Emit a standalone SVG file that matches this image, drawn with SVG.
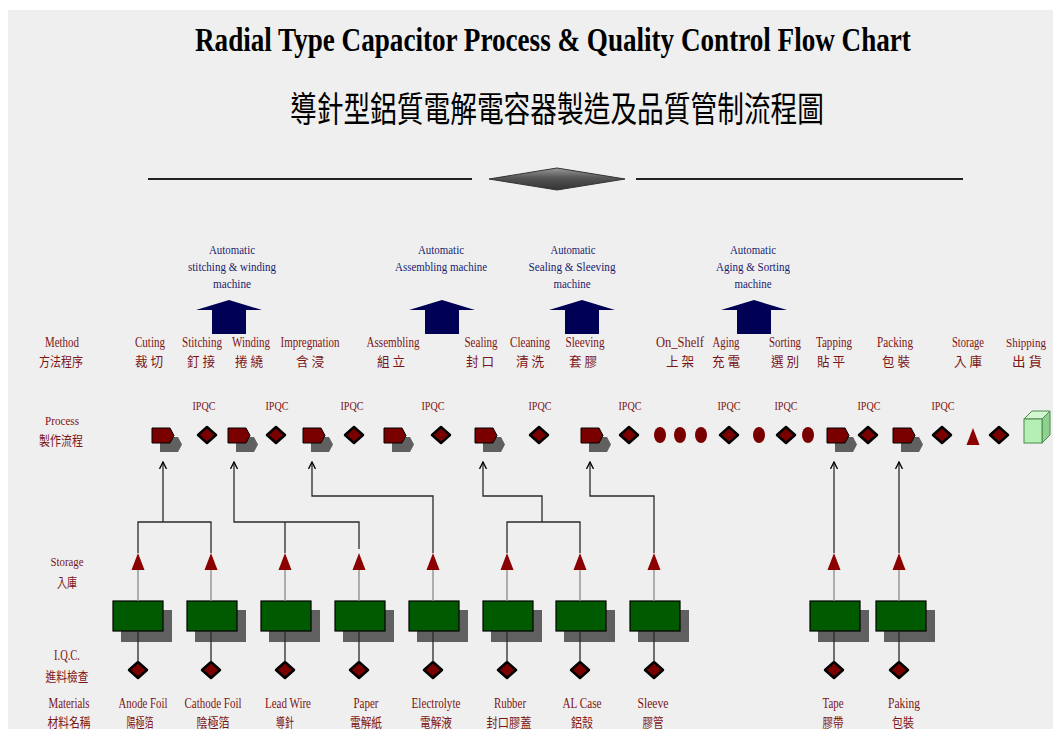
<svg xmlns="http://www.w3.org/2000/svg" width="1053" height="729" viewBox="0 0 1053 729">
<defs>
<style>
.lbl{font-family:"Liberation Serif","Noto Sans CJK TC",serif;font-size:14px;fill:#7b1414;text-anchor:middle}
.cjk{font-family:"Noto Sans CJK TC","Liberation Serif",sans-serif;font-size:13px;fill:#7b1414;text-anchor:middle}
.mach{font-family:"Liberation Serif",serif;font-size:13px;fill:#1c1c6e;text-anchor:middle}
.ipqc{font-family:"Liberation Serif",serif;font-size:13px;fill:#7b1414;text-anchor:middle}
.shadow{fill:#606060}
.pm{fill:#7a0000;stroke:#000;stroke-width:1}
.dia{fill:#7a0000;stroke:#000;stroke-width:2.5;stroke-linejoin:round}
.gb{fill:#005a00;stroke:#000;stroke-width:1.2}
.tri{fill:#8b0000}
.ell{fill:#7a0000}
.big{fill:#000055}
.conn{fill:none;stroke:#2a2a2a;stroke-width:1.3}
.conn2{fill:none;stroke:#8a8a8a;stroke-width:1.3}
</style>
<linearGradient id="dg" x1="0" y1="0" x2="0" y2="1">
<stop offset="0" stop-color="#9a9a9a"/>
<stop offset="0.45" stop-color="#555555"/>
<stop offset="1" stop-color="#333333"/>
</linearGradient>
<marker id="ah" viewBox="0 -4 8 8" refX="7" refY="0" markerWidth="8" markerHeight="8" orient="auto" markerUnits="userSpaceOnUse">
<path d="M0,-3.5 L7,0 L0,3.5" fill="none" stroke="#000" stroke-width="1.3"/>
</marker>
<g id="proc">
<polygon class="shadow" points="8,9 26,9 30,16.5 26,24 8,24"/>
<polygon class="pm" points="0,0 18,0 22,7.5 18,15 0,15"/>
</g>
<polygon id="dia" class="dia" points="0,-8 9,0 0,8 -9,0"/>
<g id="box">
<rect class="shadow" x="8" y="9" width="51" height="32"/>
<rect class="gb" x="0" y="0" width="50" height="30"/>
</g>
<polygon id="stri" class="tri" points="0,0 6.5,17 -6.5,17"/>
<polygon id="bigarrow" class="big" points="-17,34 -17,10 -33,10 0,0 33,10 17,10 17,34"/>
</defs>

<rect x="0" y="0" width="1053" height="729" fill="#ffffff"/>
<rect x="8" y="10" width="1045" height="719" fill="#efefef"/>

<g id="title">
<text transform="translate(195,51) scale(0.822,1)" x="0" y="0" font-family="Liberation Serif, serif" font-weight="bold" font-size="33" fill="#000">Radial Type Capacitor Process &amp; Quality Control Flow Chart</text>
<text x="290" y="122" font-family="Noto Sans CJK TC, sans-serif" font-size="35" fill="#000" textLength="534" lengthAdjust="spacingAndGlyphs">導針型鋁質電解電容器製造及品質管制流程圖</text>
</g>

<g id="divider">
<line x1="148" y1="179" x2="472" y2="179" stroke="#222" stroke-width="2"/>
<polygon points="489,179 557,168 625,179 557,190" fill="url(#dg)" stroke="#333" stroke-width="1"/>
<line x1="636" y1="179" x2="963" y2="179" stroke="#222" stroke-width="2"/>
</g>

<!-- row labels -->
<g id="row-method">
<text class="lbl" x="62" y="347" textLength="34" lengthAdjust="spacingAndGlyphs">Method</text>
<text class="cjk" x="61" y="366" textLength="44" lengthAdjust="spacingAndGlyphs">方法程序</text>
</g>
<g id="row-process">
<text class="lbl" x="62" y="425" style="font-size:12px" textLength="34" lengthAdjust="spacingAndGlyphs">Process</text>
<text class="cjk" x="61" y="445" textLength="44" lengthAdjust="spacingAndGlyphs">製作流程</text>
</g>
<g id="row-storage">
<text class="lbl" x="67" y="566" style="font-size:13px" textLength="33" lengthAdjust="spacingAndGlyphs">Storage</text>
<text class="cjk" x="67" y="587" textLength="20" lengthAdjust="spacingAndGlyphs">入庫</text>
</g>
<g id="row-iqc">
<text class="lbl" x="67" y="660" textLength="26" lengthAdjust="spacingAndGlyphs">I.Q.C.</text>
<text class="cjk" x="67" y="681" textLength="43" lengthAdjust="spacingAndGlyphs">進料檢查</text>
</g>
<g id="row-materials">
<text class="lbl" x="69" y="708" textLength="41" lengthAdjust="spacingAndGlyphs">Materials</text>
<text class="cjk" x="69" y="727" textLength="43" lengthAdjust="spacingAndGlyphs">材料名稱</text>
</g>

<!-- method labels -->
<g id="m-cutting"><text class="lbl" x="150" y="347" textLength="30" lengthAdjust="spacingAndGlyphs">Cuting</text><text class="cjk" x="149" y="366" textLength="28" lengthAdjust="spacingAndGlyphs">裁 切</text></g>
<g id="m-stitching"><text class="lbl" x="202" y="347" textLength="40" lengthAdjust="spacingAndGlyphs">Stitching</text><text class="cjk" x="201" y="366" textLength="28" lengthAdjust="spacingAndGlyphs">釘 接</text></g>
<g id="m-winding"><text class="lbl" x="251" y="347" textLength="38" lengthAdjust="spacingAndGlyphs">Winding</text><text class="cjk" x="249" y="366" textLength="28" lengthAdjust="spacingAndGlyphs">捲 繞</text></g>
<g id="m-impregnation"><text class="lbl" x="310" y="347" textLength="59" lengthAdjust="spacingAndGlyphs">Impregnation</text><text class="cjk" x="310" y="366" textLength="28" lengthAdjust="spacingAndGlyphs">含 浸</text></g>
<g id="m-assembling"><text class="lbl" x="393" y="347" textLength="53" lengthAdjust="spacingAndGlyphs">Assembling</text><text class="cjk" x="391" y="366" textLength="28" lengthAdjust="spacingAndGlyphs">組 立</text></g>
<g id="m-sealing"><text class="lbl" x="481" y="347" textLength="33" lengthAdjust="spacingAndGlyphs">Sealing</text><text class="cjk" x="480" y="366" textLength="28" lengthAdjust="spacingAndGlyphs">封 口</text></g>
<g id="m-cleaning"><text class="lbl" x="530" y="347" textLength="40" lengthAdjust="spacingAndGlyphs">Cleaning</text><text class="cjk" x="530" y="366" textLength="28" lengthAdjust="spacingAndGlyphs">清 洗</text></g>
<g id="m-sleeving"><text class="lbl" x="585" y="347" textLength="39" lengthAdjust="spacingAndGlyphs">Sleeving</text><text class="cjk" x="583" y="366" textLength="28" lengthAdjust="spacingAndGlyphs">套 膠</text></g>
<g id="m-onshelf"><text class="lbl" x="680" y="347" textLength="48" lengthAdjust="spacingAndGlyphs">On_Shelf</text><text class="cjk" x="680" y="366" textLength="28" lengthAdjust="spacingAndGlyphs">上 架</text></g>
<g id="m-aging"><text class="lbl" x="726" y="347" textLength="27" lengthAdjust="spacingAndGlyphs">Aging</text><text class="cjk" x="726" y="366" textLength="28" lengthAdjust="spacingAndGlyphs">充 電</text></g>
<g id="m-sorting"><text class="lbl" x="785" y="347" textLength="32" lengthAdjust="spacingAndGlyphs">Sorting</text><text class="cjk" x="785" y="366" textLength="28" lengthAdjust="spacingAndGlyphs">選 別</text></g>
<g id="m-tapping"><text class="lbl" x="834" y="347" textLength="36" lengthAdjust="spacingAndGlyphs">Tapping</text><text class="cjk" x="831" y="366" textLength="28" lengthAdjust="spacingAndGlyphs">貼 平</text></g>
<g id="m-packing"><text class="lbl" x="895" y="347" textLength="36" lengthAdjust="spacingAndGlyphs">Packing</text><text class="cjk" x="896" y="366" textLength="28" lengthAdjust="spacingAndGlyphs">包 裝</text></g>
<g id="m-storage"><text class="lbl" x="968" y="347" textLength="32" lengthAdjust="spacingAndGlyphs">Storage</text><text class="cjk" x="968" y="366" textLength="28" lengthAdjust="spacingAndGlyphs">入 庫</text></g>
<g id="m-shipping"><text class="lbl" x="1026" y="347" style="font-size:11.5px" textLength="40" lengthAdjust="spacingAndGlyphs">Shipping</text><text class="cjk" x="1027" y="366" textLength="30" lengthAdjust="spacingAndGlyphs">出 貨</text></g>

<!-- machines -->
<g id="machine-1">
<text class="mach" x="232" y="254" textLength="46" lengthAdjust="spacingAndGlyphs">Automatic</text>
<text class="mach" x="232" y="271" textLength="88" lengthAdjust="spacingAndGlyphs">stitching &amp; winding</text>
<text class="mach" x="232" y="288" textLength="38" lengthAdjust="spacingAndGlyphs">machine</text>
<use href="#bigarrow" x="229" y="300"/>
</g>
<g id="machine-2">
<text class="mach" x="441" y="254" textLength="46" lengthAdjust="spacingAndGlyphs">Automatic</text>
<text class="mach" x="441" y="271" textLength="92" lengthAdjust="spacingAndGlyphs">Assembling machine</text>
<use href="#bigarrow" x="442" y="300"/>
</g>
<g id="machine-3">
<text class="mach" x="573" y="254" textLength="45" lengthAdjust="spacingAndGlyphs">Automatic</text>
<text class="mach" x="572" y="271" textLength="87" lengthAdjust="spacingAndGlyphs">Sealing &amp; Sleeving</text>
<text class="mach" x="572" y="288" textLength="37" lengthAdjust="spacingAndGlyphs">machine</text>
<use href="#bigarrow" x="582" y="300"/>
</g>
<g id="machine-4">
<text class="mach" x="753" y="254" textLength="46" lengthAdjust="spacingAndGlyphs">Automatic</text>
<text class="mach" x="753" y="271" textLength="74" lengthAdjust="spacingAndGlyphs">Aging &amp; Sorting</text>
<text class="mach" x="753" y="288" textLength="37" lengthAdjust="spacingAndGlyphs">machine</text>
<use href="#bigarrow" x="754" y="300"/>
</g>

<!-- process row -->
<g id="p1"><use href="#proc" x="152" y="428"/></g>
<g id="q1"><text class="ipqc" x="204" y="410" textLength="23" lengthAdjust="spacingAndGlyphs">IPQC</text><use href="#dia" x="207" y="435"/></g>
<g id="p2"><use href="#proc" x="228" y="428"/></g>
<g id="q2"><text class="ipqc" x="277" y="410" textLength="23" lengthAdjust="spacingAndGlyphs">IPQC</text><use href="#dia" x="276" y="435"/></g>
<g id="p3"><use href="#proc" x="303" y="428"/></g>
<g id="q3"><text class="ipqc" x="352" y="410" textLength="23" lengthAdjust="spacingAndGlyphs">IPQC</text><use href="#dia" x="354" y="435"/></g>
<g id="p4"><use href="#proc" x="384" y="428"/></g>
<g id="q4"><text class="ipqc" x="433" y="410" textLength="23" lengthAdjust="spacingAndGlyphs">IPQC</text><use href="#dia" x="441" y="435"/></g>
<g id="p5"><use href="#proc" x="475" y="428"/></g>
<g id="q5"><text class="ipqc" x="540" y="410" textLength="23" lengthAdjust="spacingAndGlyphs">IPQC</text><use href="#dia" x="539" y="435"/></g>
<g id="p6"><use href="#proc" x="581" y="428"/></g>
<g id="q6"><text class="ipqc" x="630" y="410" textLength="23" lengthAdjust="spacingAndGlyphs">IPQC</text><use href="#dia" x="629" y="435"/></g>
<g id="e1"><ellipse class="ell" cx="660" cy="435" rx="6" ry="8"/></g>
<g id="e2"><ellipse class="ell" cx="680" cy="435" rx="6" ry="8"/></g>
<g id="e3"><ellipse class="ell" cx="701" cy="435" rx="6" ry="8"/></g>
<g id="q7"><text class="ipqc" x="729" y="410" textLength="23" lengthAdjust="spacingAndGlyphs">IPQC</text><use href="#dia" x="729" y="435"/></g>
<g id="e4"><ellipse class="ell" cx="759" cy="435" rx="6" ry="8"/></g>
<g id="q8"><text class="ipqc" x="786" y="410" textLength="23" lengthAdjust="spacingAndGlyphs">IPQC</text><use href="#dia" x="786" y="435"/></g>
<g id="e5"><ellipse class="ell" cx="808" cy="435" rx="6" ry="8"/></g>
<g id="p7"><use href="#proc" x="827" y="428"/></g>
<g id="q9"><text class="ipqc" x="869" y="410" textLength="23" lengthAdjust="spacingAndGlyphs">IPQC</text><use href="#dia" x="868" y="435"/></g>
<g id="p8"><use href="#proc" x="893" y="428"/></g>
<g id="q10"><text class="ipqc" x="943" y="410" textLength="23" lengthAdjust="spacingAndGlyphs">IPQC</text><use href="#dia" x="942" y="435"/></g>
<g id="t-storage"><polygon class="tri" points="973,428 979.5,445 966.5,445"/></g>
<g id="q11"><use href="#dia" x="999" y="435"/></g>
<g id="ship-box">
<polygon points="1024,419 1032,411 1050,411 1042,419" fill="#d2f7d2" stroke="#4a8a4a" stroke-width="1"/>
<polygon points="1042,419 1050,411 1050,435 1042,443" fill="#8fcf8f" stroke="#4a8a4a" stroke-width="1"/>
<rect x="1024" y="419" width="18" height="24" fill="#b6efb6" stroke="#4a8a4a" stroke-width="1"/>
</g>

<!-- materials: storage triangle, box, IQC diamond, labels -->
<g id="mat-anode"><use href="#stri" x="138" y="553"/><use href="#box" x="113" y="601"/><use href="#dia" x="138" y="670"/>
<text class="lbl" x="143" y="708" textLength="49" lengthAdjust="spacingAndGlyphs">Anode Foil</text><text class="cjk" x="140" y="727" textLength="27" lengthAdjust="spacingAndGlyphs">陽極箔</text></g>
<g id="mat-cathode"><use href="#stri" x="211" y="553"/><use href="#box" x="187" y="601"/><use href="#dia" x="211" y="670"/>
<text class="lbl" x="213" y="708" textLength="57" lengthAdjust="spacingAndGlyphs">Cathode Foil</text><text class="cjk" x="213" y="727" textLength="33" lengthAdjust="spacingAndGlyphs">陰極箔</text></g>
<g id="mat-lead"><use href="#stri" x="285" y="553"/><use href="#box" x="261" y="601"/><use href="#dia" x="285" y="670"/>
<text class="lbl" x="288" y="708" textLength="46" lengthAdjust="spacingAndGlyphs">Lead Wire</text><text class="cjk" x="285" y="727" textLength="18" lengthAdjust="spacingAndGlyphs">導針</text></g>
<g id="mat-paper"><use href="#stri" x="359" y="553"/><use href="#box" x="335" y="601"/><use href="#dia" x="359" y="670"/>
<text class="lbl" x="366" y="708" textLength="25" lengthAdjust="spacingAndGlyphs">Paper</text><text class="cjk" x="366" y="727" textLength="32" lengthAdjust="spacingAndGlyphs">電解紙</text></g>
<g id="mat-electrolyte"><use href="#stri" x="433" y="553"/><use href="#box" x="409" y="601"/><use href="#dia" x="433" y="670"/>
<text class="lbl" x="436" y="708" textLength="49" lengthAdjust="spacingAndGlyphs">Electrolyte</text><text class="cjk" x="436" y="727" textLength="32" lengthAdjust="spacingAndGlyphs">電解液</text></g>
<g id="mat-rubber"><use href="#stri" x="507" y="553"/><use href="#box" x="483" y="601"/><use href="#dia" x="507" y="670"/>
<text class="lbl" x="510" y="708" textLength="32" lengthAdjust="spacingAndGlyphs">Rubber</text><text class="cjk" x="509" y="727" textLength="45" lengthAdjust="spacingAndGlyphs">封口膠蓋</text></g>
<g id="mat-alcase"><use href="#stri" x="580" y="553"/><use href="#box" x="556" y="601"/><use href="#dia" x="580" y="670"/>
<text class="lbl" x="582" y="708" textLength="39" lengthAdjust="spacingAndGlyphs">AL Case</text><text class="cjk" x="582" y="727" textLength="22" lengthAdjust="spacingAndGlyphs">鋁殼</text></g>
<g id="mat-sleeve"><use href="#stri" x="654" y="553"/><use href="#box" x="630" y="601"/><use href="#dia" x="654" y="670"/>
<text class="lbl" x="653" y="708" textLength="31" lengthAdjust="spacingAndGlyphs">Sleeve</text><text class="cjk" x="653" y="727" textLength="21" lengthAdjust="spacingAndGlyphs">膠管</text></g>
<g id="mat-tape"><use href="#stri" x="834" y="553"/><use href="#box" x="810" y="601"/><use href="#dia" x="834" y="670"/>
<text class="lbl" x="833" y="708" textLength="21" lengthAdjust="spacingAndGlyphs">Tape</text><text class="cjk" x="833" y="727" textLength="21" lengthAdjust="spacingAndGlyphs">膠帶</text></g>
<g id="mat-paking"><use href="#stri" x="899" y="553"/><use href="#box" x="876" y="601"/><use href="#dia" x="899" y="670"/>
<text class="lbl" x="904" y="708" textLength="32" lengthAdjust="spacingAndGlyphs">Paking</text><text class="cjk" x="903" y="727" textLength="22" lengthAdjust="spacingAndGlyphs">包裝</text></g>

<!-- connectors -->
<g id="connectors">
<path class="conn" d="M138,553 V522 H211 V553 M163,522 V462" marker-end="url(#ah)"/>
<path class="conn" d="M285,553 V522 M359,549 V522 H234 V462" marker-end="url(#ah)"/>
<path class="conn" d="M433,553 V496 H312 V462" marker-end="url(#ah)"/>
<path class="conn" d="M507,553 V522 H580 V553 M542,522 V496 H483 V462" marker-end="url(#ah)"/>
<path class="conn" d="M654,553 V496 H590 V462" marker-end="url(#ah)"/>
<path class="conn" d="M834,553 V462" marker-end="url(#ah)"/>
<path class="conn" d="M899,553 V462" marker-end="url(#ah)"/>
<path class="conn2" d="M138,601 V570 M211,601 V570 M285,601 V570 M359,601 V570 M433,601 V570 M507,601 V570 M580,601 V570 M654,601 V570 M834,601 V570 M899,601 V570"/>
<path class="conn" d="M138,631 V662 M211,631 V662 M285,631 V662 M359,631 V662 M433,631 V662 M507,631 V662 M580,631 V662 M654,631 V662 M834,631 V662 M899,631 V662"/>
</g>
</svg>
